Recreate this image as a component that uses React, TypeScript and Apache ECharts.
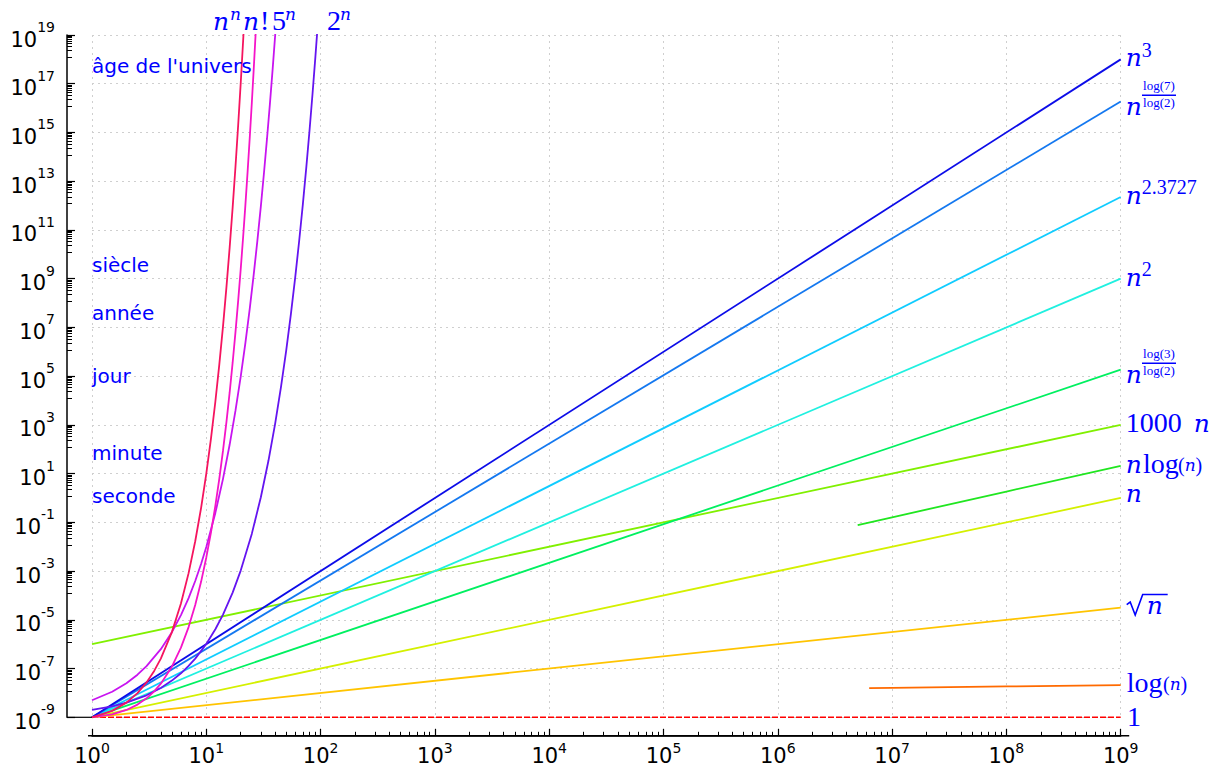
import React, { useEffect, useRef } from "react";
import * as echarts from "echarts";

// ---- axis ranges (n, and time in seconds with 1 operation = 1 ns) ----
const X_MIN = 1;
const X_MAX = 1e9;
const Y_MIN = 1e-9;
const Y_MAX = 1e19;

// ---- series: [n, seconds] ----
const ONE = [[1, 1e-9], [1e9, 1e-9]];
const LOG_N = [[6.3e6, 1.566e-8], [1e7, 1.612e-8], [1e8, 1.842e-8], [1e9, 2.072e-8]];
const SQRT_N = [[1, 1e-9], [1e9, 3.162e-5]];
const LIN_N = [[1, 1e-9], [1e9, 1]];
const N_LOG_N = [[5e6, 0.0771], [1e7, 0.1612], [1e8, 1.842], [1e9, 20.72]];
const THOUSAND_N = [[1, 1e-6], [1e9, 1e3]];
const N_LOG3 = [[1, 1e-9], [1e9, 1.84e5]];
const N_SQ = [[1, 1e-9], [1e9, 1e9]];
const N_23727 = [[1, 1e-9], [1e9, 2.26e12]];
const N_LOG7 = [[1, 1e-9], [1e9, 1.85e16]];
const N_CUBE = [[1, 1e-9], [1e9, 1e18]];
const TWO_N = [[1, 2e-9], [1.5, 2.83e-9], [2, 4e-9], [3, 8e-9], [4, 1.6e-8], [5, 3.2e-8], [6, 6.4e-8], [7, 1.28e-7], [8, 2.56e-7], [10, 1.024e-6], [12, 4.1e-6], [14, 1.64e-5], [17, 1.31e-4], [20, 1.05e-3], [25, 3.36e-2], [30, 1.074], [35, 34.4], [40, 1.1e3], [45, 3.52e4], [50, 1.126e6], [55, 3.6e7], [60, 1.153e9], [65, 3.69e10], [70, 1.18e12], [75, 3.78e13], [80, 1.21e15], [85, 3.87e16], [90, 1.24e18], [95, 3.96e19]];
const FIVE_N = [[1, 5e-9], [1.5, 1.118e-8], [2, 2.5e-8], [2.5, 5.59e-8], [3, 1.25e-7], [4, 6.25e-7], [5, 3.125e-6], [6, 1.5625e-5], [7, 7.81e-5], [8, 3.91e-4], [9, 1.95e-3], [10, 9.77e-3], [12, 0.244], [14, 6.1], [16, 152.6], [18, 3815], [20, 9.54e4], [22, 2.38e6], [24, 5.96e7], [26, 1.49e9], [28, 3.73e10], [30, 9.31e11], [32, 2.33e13], [34, 5.82e14], [36, 1.46e16], [38, 3.64e17], [40, 9.09e18], [42, 2.27e20]];
const FACT_N = [[1, 1e-9], [1.5, 1.33e-9], [2, 2e-9], [2.5, 3.32e-9], [3, 6e-9], [3.5, 1.163e-8], [4, 2.4e-8], [5, 1.2e-7], [6, 7.2e-7], [7, 5.04e-6], [8, 4.03e-5], [9, 3.63e-4], [10, 3.63e-3], [11, 3.99e-2], [12, 0.479], [13, 6.23], [14, 87.2], [15, 1308], [16, 2.09e4], [17, 3.56e5], [18, 6.4e6], [19, 1.22e8], [20, 2.43e9], [21, 5.11e10], [22, 1.12e12], [23, 2.59e13], [24, 6.2e14], [25, 1.55e16], [26, 4.03e17], [27, 1.09e19], [28, 3.05e20]];
const N_POW_N = [[1, 1e-9], [1.5, 1.84e-9], [2, 4e-9], [2.5, 9.88e-9], [3, 2.7e-8], [3.5, 8.02e-8], [4, 2.56e-7], [5, 3.125e-6], [6, 4.67e-5], [7, 8.24e-4], [8, 1.68e-2], [9, 0.387], [10, 10], [11, 285], [12, 8916], [13, 3.03e5], [14, 1.11e7], [15, 4.38e8], [16, 1.84e10], [17, 8.27e11], [18, 3.93e13], [19, 1.98e15], [20, 1.05e17], [21, 5.84e18], [22, 3.41e20]];

// ---- time references (left texts) ----
const TIME_LABELS = ["seconde", "minute", "jour", "année", "siècle", "âge de l'univers"];
const TIME_VALUES = [1, 60, 86400, 3.156e7, 3.156e9, 4.35e17];

const SERIES_LIST = [
  { key: "one", data: ONE, color: "#ff0000", dash: [6, 2] },
  { key: "logn", data: LOG_N, color: "#ff6a00" },
  { key: "sqrt", data: SQRT_N, color: "#ffc400" },
  { key: "n", data: LIN_N, color: "#d4f000" },
  { key: "nlogn", data: N_LOG_N, color: "#20e620" },
  { key: "1000n", data: THOUSAND_N, color: "#80f000" },
  { key: "nlog3", data: N_LOG3, color: "#00f060" },
  { key: "n2", data: N_SQ, color: "#20f0e0" },
  { key: "n2.37", data: N_23727, color: "#10ccff" },
  { key: "nlog7", data: N_LOG7, color: "#1478f0" },
  { key: "n3", data: N_CUBE, color: "#0c0ce8" },
  { key: "2n", data: TWO_N, color: "#6414f0" },
  { key: "5n", data: FIVE_N, color: "#c814f0" },
  { key: "fact", data: FACT_N, color: "#f514c8" },
  { key: "nn", data: N_POW_N, color: "#f5145f" },
];

const BLUE = "#0000ff";
const SERIF = "Liberation Serif";
const ITAL = "DejaVu Serif";
const SANS = "DejaVu Sans";

const yLabelRich = {
  b: { fontFamily: SANS, fontSize: 21, color: "#000", lineHeight: 30, verticalAlign: "bottom" },
  e: { fontFamily: SANS, fontSize: 14, color: "#000", lineHeight: 16, verticalAlign: "top" },
};
const xLabelRich = {
  b: { fontFamily: SANS, fontSize: 21, color: "#000", lineHeight: 26, verticalAlign: "bottom" },
  e: { fontFamily: SANS, fontSize: 14, color: "#000", lineHeight: 14, verticalAlign: "top" },
};
const powFormatter = (v: number) => {
  const e = Math.round(Math.log10(v));
  return `{b|10}{e|${e}}`;
};

function buildOption(): any {
  return {
    animation: false,
    backgroundColor: "#fff",
    grid: { left: 92, right: 92.3, top: 35, bottom: 49.7, outerBoundsMode: "none", containLabel: false },
    xAxis: {
      type: "log",
      logBase: 10,
      min: X_MIN,
      max: X_MAX,
      splitNumber: 9,
      offset: 18.5,
      axisLine: { show: true, onZero: false, lineStyle: { color: "#000", width: 1.5 } },
      axisTick: { show: true, inside: true, length: 7, lineStyle: { color: "#000", width: 1.2 } },
      minorTick: { show: true, splitNumber: 9, length: 4, lineStyle: { color: "#000", width: 1 } },
      axisLabel: { show: true, margin: 5, formatter: powFormatter, rich: xLabelRich, showMinLabel: true, showMaxLabel: true, hideOverlap: false },
      splitLine: { show: true, lineStyle: { color: "#cfcfcf", type: [2, 4], width: 1 } },
      minorSplitLine: { show: false },
    },
    yAxis: {
      type: "log",
      logBase: 10,
      min: Y_MIN,
      max: Y_MAX,
      interval: 2,
      offset: 25,
      axisLine: { show: true, onZero: false, lineStyle: { color: "#000", width: 1.5 } },
      axisTick: { show: true, inside: true, length: 8, lineStyle: { color: "#000", width: 1.2 } },
      minorTick: { show: true, splitNumber: 9, length: 5, lineStyle: { color: "#000", width: 1 } },
      axisLabel: { show: true, margin: 12, formatter: powFormatter, rich: yLabelRich, showMinLabel: true, showMaxLabel: true, hideOverlap: false },
      splitLine: { show: true, lineStyle: { color: "#cfcfcf", type: [2, 4], width: 1 } },
      minorSplitLine: { show: false },
    },
    series: SERIES_LIST.map((s) => ({
      type: "line",
      name: s.key,
      data: s.data,
      showSymbol: false,
      symbol: "none",
      silent: true,
      clip: true,
      lineStyle: { color: s.color, width: s.dash ? 1.5 : 1.8, type: s.dash || "solid" },
    })),
  };
}

function t(text: string, x: number, y: number, size: number, family: string, italic = false, align = "left", fill = BLUE): any {
  return {
    type: "text",
    x,
    y,
    silent: true,
    z: 100,
    style: { text, fill, fontSize: size, fontFamily: family, fontStyle: italic ? "italic" : "normal", align, verticalAlign: "middle" },
  };
}
const nI = (x: number, y: number, size = 25) => t("n", x, y, size, ITAL, true);
const rm = (s: string, x: number, y: number, size = 28) => t(s, x, y, size, SERIF);
const paren = (x: number, y: number): any => ({
  type: "text",
  x,
  y,
  silent: true,
  z: 100,
  style: {
    text: "{p|(}{i|n}{p|)}",
    fill: BLUE,
    align: "left",
    verticalAlign: "middle",
    rich: {
      p: { fontFamily: SERIF, fontSize: 20, fill: BLUE },
      i: { fontFamily: ITAL, fontStyle: "italic", fontSize: 17, fill: BLUE },
    },
  },
});
const frac = (num: string, den: string, cx: number, ay: number): any[] => [
  t(num, cx, ay - 15.7, 13, SERIF, false, "center"),
  { type: "line", silent: true, z: 100, shape: { x1: cx - 17, y1: ay - 6.4, x2: cx + 17, y2: ay - 6.4 }, style: { stroke: BLUE, lineWidth: 1.5 } },
  t(den, cx, ay + 0.5, 13, SERIF, false, "center"),
];

function buildGraphics(P: (x: number, y: number) => number[]): any[] {
  const els: any[] = [];
  const last = (d: number[][]) => d[d.length - 1];
  const anchor = (d: number[][]) => P(last(d)[0], last(d)[1]);
  const [ax] = anchor(N_CUBE);
  const L = ax + 5;

  // n^3
  let ay = anchor(N_CUBE)[1];
  els.push(nI(L, ay - 1.5), rm("3", L + 16, ay - 9.5, 20));
  // n^(log7/log2)
  ay = anchor(N_LOG7)[1];
  els.push(nI(L, ay + 5), ...frac("log(7)", "log(2)", L + 33.3, ay));
  // n^2.3727
  ay = anchor(N_23727)[1];
  els.push(nI(L, ay - 1.5), rm("2.3727", L + 16, ay - 9.5, 20));
  // n^2
  ay = anchor(N_SQ)[1];
  els.push(nI(L, ay - 1.5), rm("2", L + 16, ay - 9.5, 20));
  // n^(log3/log2)
  ay = anchor(N_LOG3)[1];
  els.push(nI(L, ay + 5), ...frac("log(3)", "log(2)", L + 33.3, ay));
  // 1000 n
  ay = anchor(THOUSAND_N)[1];
  els.push(rm("1000", L, ay - 2.6), nI(L + 68, ay - 1));
  // n log(n)
  ay = anchor(N_LOG_N)[1];
  els.push(nI(L, ay - 1.6), rm("log", L + 17.3, ay - 2.8), paren(L + 52.3, ay - 0.5));
  // n
  ay = anchor(LIN_N)[1];
  els.push(nI(L, ay - 4.5));
  // sqrt(n)
  ay = anchor(SQRT_N)[1];
  els.push({
    type: "polyline",
    silent: true,
    z: 100,
    shape: { points: [[L + 1, ay - 3], [L + 4.5, ay - 5.6], [L + 9.5, ay + 7.4], [L + 17, ay - 13.1], [L + 42, ay - 13.1]] },
    style: { stroke: BLUE, lineWidth: 1.6, fill: null },
  });
  els.push(nI(L + 21, ay - 2));
  // log(n)
  ay = anchor(LOG_N)[1];
  els.push(rm("log", L + 1, ay - 3), paren(L + 37.3, ay - 1));
  // 1
  ay = anchor(ONE)[1];
  els.push(rm("1", L + 1.3, ay - 0.8));

  // top labels
  const yTop = P(X_MIN, Y_MAX)[1];
  els.push(nI(213, yTop - 13.7), t("n", 230, yTop - 21, 17, ITAL, true));
  els.push(nI(243, yTop - 13.7), rm("!", 260, yTop - 15));
  els.push(rm("5", 272, yTop - 15), t("n", 285, yTop - 21, 17, ITAL, true));
  els.push(rm("2", 327, yTop - 15), t("n", 340, yTop - 21, 17, ITAL, true));

  // left time references
  TIME_LABELS.forEach((lab, i) => {
    const [x, y] = P(X_MIN, TIME_VALUES[i]);
    els.push(t(lab, x, y - 2, 20, SANS, false, "left"));
  });

  // axis decorations: stub at 10^-9 and x axis line extension
  const [gx0, gyB] = P(X_MIN, Y_MIN);
  const [gx1] = P(X_MAX, Y_MIN);
  els.push({ type: "line", silent: true, z: 50, shape: { x1: gx0 - 25, y1: gyB, x2: gx0, y2: gyB }, style: { stroke: "#000", lineWidth: 1.2 } });
  els.push({ type: "line", silent: true, z: 50, shape: { x1: gx0 - 4, y1: gyB + 18.5, x2: gx1 + 8.5, y2: gyB + 18.5 }, style: { stroke: "#000", lineWidth: 1.5 } });
  return els;
}

export default function App() {
  const ref = useRef<HTMLDivElement>(null);
  useEffect(() => {
    const chart = echarts.init(ref.current as HTMLDivElement, null, { renderer: "svg" });
    chart.setOption(buildOption());
    const P = (x: number, y: number) => chart.convertToPixel({ gridIndex: 0 }, [x, y]) as unknown as number[];
    chart.setOption({ graphic: buildGraphics(P) });
    return () => chart.dispose();
  }, []);
  return <div ref={ref} style={{ position: "fixed", left: 0, top: 0, width: 1213, height: 767, background: "#fff" }} />;
}
